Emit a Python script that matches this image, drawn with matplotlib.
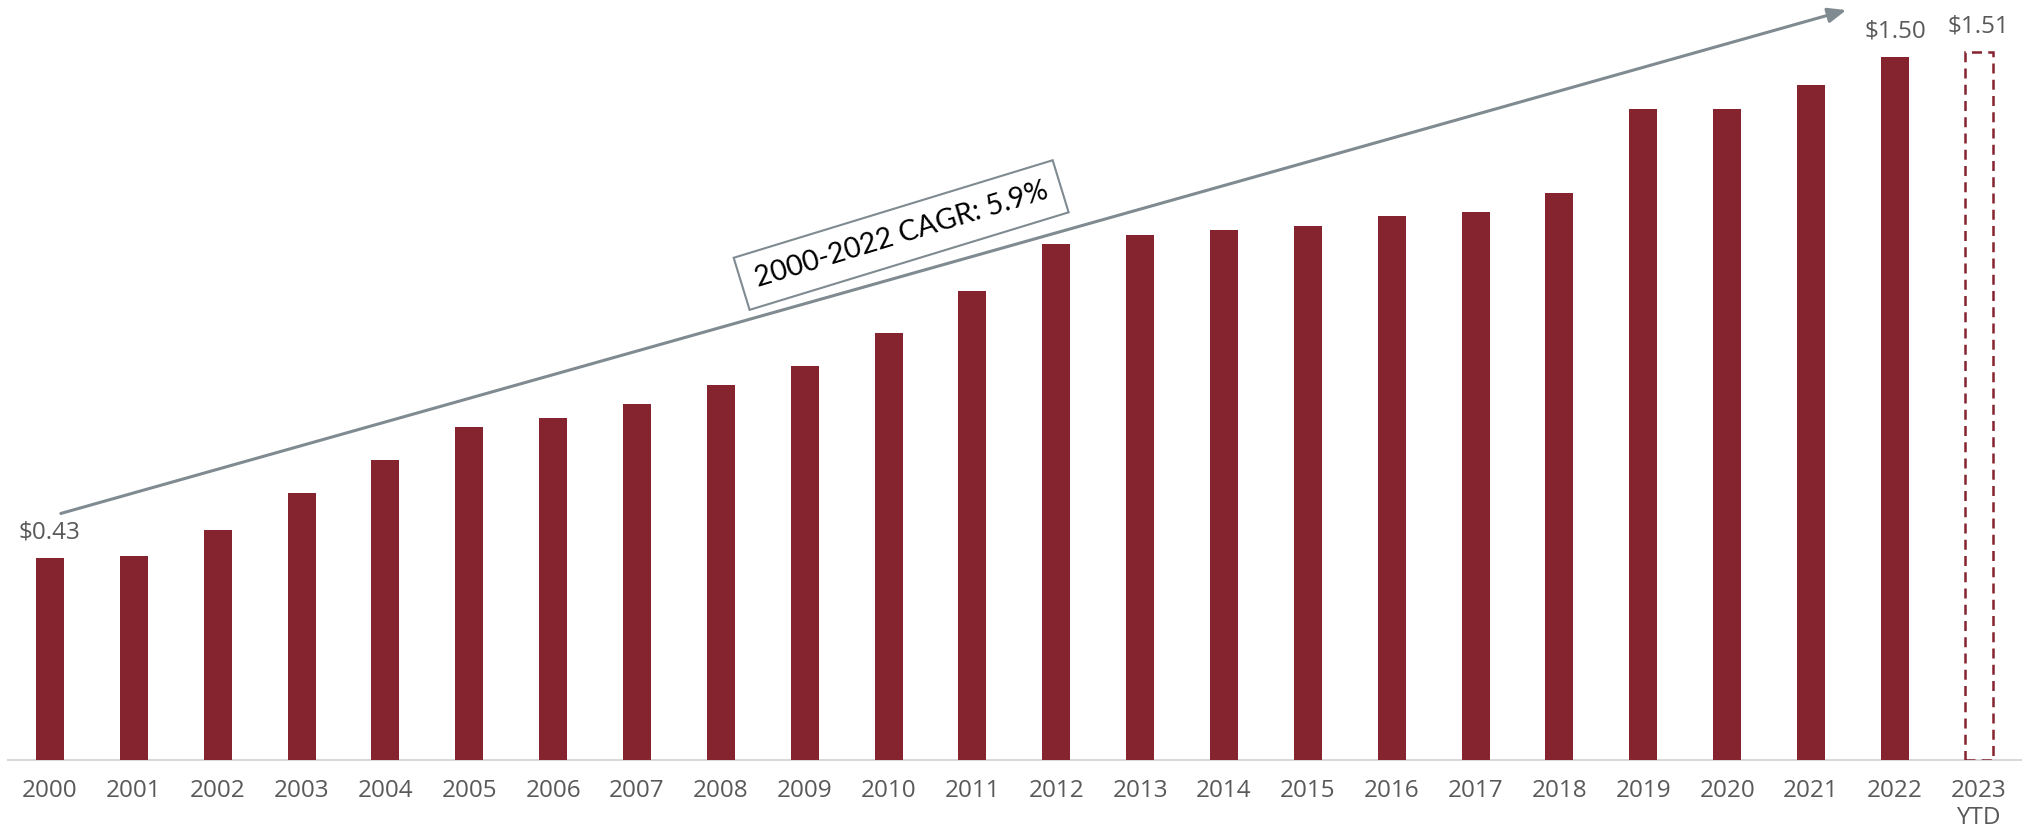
"""Annual dividend per share, 2000 to 2023 YTD, with a CAGR trend arrow."""

import matplotlib

matplotlib.use("Agg")
import matplotlib.pyplot as plt
import numpy as np

# Values
YEARS = [str(y) for y in range(2000, 2023)] + ["2023\nYTD"]
VALUES = [0.43, 0.435, 0.49, 0.57, 0.64, 0.71, 0.73, 0.76, 0.80, 0.84,
          0.91, 1.00, 1.10, 1.12, 1.13, 1.14, 1.16, 1.17, 1.21, 1.39,
          1.39, 1.44, 1.50, 1.51]
LABELLED = {0: "$0.43", 22: "$1.50", 23: "$1.51"}
CAGR_TEXT = "2000-2022 CAGR: 5.9%"

BAR_COLOR = "#85232F"
GREY = "#7F8A91"
TEXT = "#595959"

plt.rcParams["font.family"] = ["Open Sans", "DejaVu Sans"]

fig = plt.figure(figsize=(20.28, 8.32), dpi=100)
ax = fig.add_axes([8 / 2028, 72 / 832, 2012.7 / 2028, 760 / 832])

x = np.arange(len(YEARS))
width = 0.334
solid = x[:-1]
ax.bar(solid, VALUES[:-1], width=width, color=BAR_COLOR, zorder=2)
# the year-to-date bar is only outlined
ax.bar(x[-1], VALUES[-1], width=width, facecolor="none", edgecolor=BAR_COLOR,
       linestyle=(0, (4, 2.5)), linewidth=1.8, zorder=2)

for i, label in LABELLED.items():
    ax.text(x[i], VALUES[i] + 0.055, label, ha="center", va="center",
            fontsize=17.5, color=TEXT)

# trend arrow from the first to the last full year
ax.annotate("", xy=(21.42, 1.60), xytext=(0.13, 0.526),
            arrowprops=dict(arrowstyle="-|>,head_length=1.1,head_width=0.45",
                            color=GREY, lw=2.2, shrinkA=0, shrinkB=0),
            annotation_clip=False)

ax.text(10.15, 1.12, CAGR_TEXT, rotation=17, rotation_mode="anchor",
        ha="center", va="center", fontsize=20.5, color="black",
        family=["Lato", "DejaVu Sans"],
        bbox=dict(boxstyle="square,pad=0.5", facecolor="white",
                  edgecolor=GREY, linewidth=1.5))

ax.set_xlim(-0.5, len(YEARS) - 0.5)
ax.set_ylim(0, 760 / 468.7)
ax.set_xticks(x)
ax.set_xticklabels(YEARS, fontsize=17.5, color=TEXT, linespacing=1.15)
ax.tick_params(axis="x", length=0, pad=14)
ax.set_yticks([])
for side in ("top", "right", "left"):
    ax.spines[side].set_visible(False)
ax.spines["bottom"].set_color("#D9D9D9")
ax.spines["bottom"].set_linewidth(1.5)
ax.spines["bottom"].set_zorder(1)

fig.savefig("out.png", dpi=100)
